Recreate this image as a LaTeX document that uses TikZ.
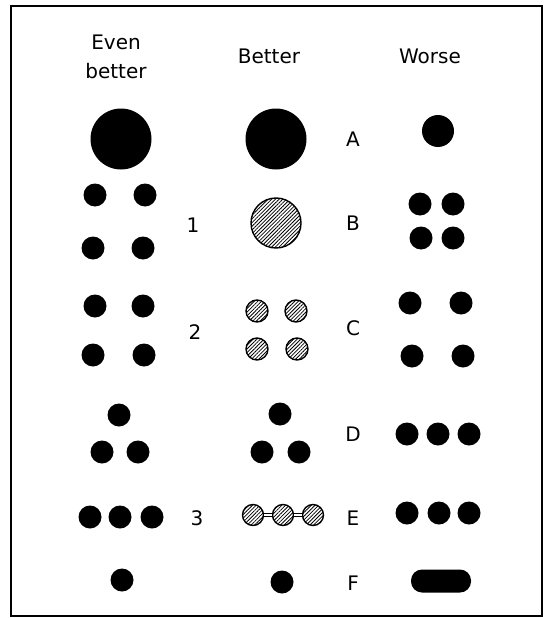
\documentclass[tikz,border=0pt]{standalone}
\usepackage{fontspec}
\setmainfont{DejaVu Sans}
\usetikzlibrary{patterns.meta}
\begin{document}
\begin{tikzpicture}[x=1pt,y=-1pt,
every node/.style={font=\fontsize{20}{29}\selectfont},
dot/.style={circle,fill=black,inner sep=0pt,minimum size=23pt},
bigdot/.style={dot,minimum size=61pt},
hatchdot/.style={circle,draw,line width=1.4pt,pattern={Lines[angle=45,distance=2.6pt,line width=.8pt]},inner sep=0pt,minimum size=22pt},
bar/.style={rectangle,rounded corners=11pt,fill=black,inner sep=0pt,minimum width=60pt,minimum height=23pt},
link/.style={double,double distance=2.6pt,line width=.9pt}]
\useasboundingbox (0,0) rectangle (546,618);
\draw[line width=2.8pt] (11,6) rectangle (542,616);
% headings
\node[align=center] (hEven) at (116,57) {Even\\better};
\node (hBetter) at (269,56) {Better};
\node (hWorse) at (430,56) {Worse};
% row A
\node[bigdot] (eA) at (121,139) {};
\node[bigdot] (bA) at (276,139) {};
\node (lA) at (353,139) {A};
\node[dot,minimum size=32pt] (wA) at (438,131) {};
% row B, case 1
\node[dot] (e1a) at (95,195) {};
\node[dot] (e1b) at (145,195) {};
\node[dot] (e1c) at (93,248) {};
\node[dot] (e1d) at (143,248) {};
\node (n1) at (193,225) {1};
\node[hatchdot,minimum size=50pt] (bB) at (276,223) {};
\node (lB) at (353,223) {B};
\node[dot] (wBa) at (420,204) {};
\node[dot] (wBb) at (453,204) {};
\node[dot] (wBc) at (421,238) {};
\node[dot] (wBd) at (453,238) {};
% row C, case 2
\node[dot] (e2a) at (95,306) {};
\node[dot] (e2b) at (143,306) {};
\node[dot] (e2c) at (93,355) {};
\node[dot] (e2d) at (144,355) {};
\node (n2) at (195,332) {2};
\node[hatchdot] (bCa) at (257,311) {};
\node[hatchdot] (bCb) at (296,311) {};
\node[hatchdot] (bCc) at (257,349) {};
\node[hatchdot] (bCd) at (297,349) {};
\node (lC) at (353,328) {C};
\node[dot] (wCa) at (410,303) {};
\node[dot] (wCb) at (461,303) {};
\node[dot] (wCc) at (412,356) {};
\node[dot] (wCd) at (463,356) {};
% row D
\node[dot] (eDa) at (119,415) {};
\node[dot] (eDb) at (102,452) {};
\node[dot] (eDc) at (138,452) {};
\node[dot] (bDa) at (280,414) {};
\node[dot] (bDb) at (262,452) {};
\node[dot] (bDc) at (299,452) {};
\node (lD) at (353,434) {D};
\node[dot] (wDa) at (407,434) {};
\node[dot] (wDb) at (438,434) {};
\node[dot] (wDc) at (469,434) {};
% row E, case 3
\node[dot] (eEa) at (90,517) {};
\node[dot] (eEb) at (120,517) {};
\node[dot] (eEc) at (152,517) {};
\node (n3) at (197,518) {3};
\node[hatchdot,minimum size=21pt] (bEa) at (253,515) {};
\node[hatchdot,minimum size=21pt] (bEb) at (283,515) {};
\node[hatchdot,minimum size=21pt] (bEc) at (313,515) {};
\draw[link] (bEa)--(bEb);
\draw[link] (bEb)--(bEc);
\node (lE) at (353,518) {E};
\node[dot] (wEa) at (407,513) {};
\node[dot] (wEb) at (439,513) {};
\node[dot] (wEc) at (469,513) {};
% row F
\node[dot] (eF) at (122,580) {};
\node[dot] (bF) at (282,582) {};
\node (lF) at (353,583) {F};
\node[bar] (wF) at (441,581) {};
\end{tikzpicture}
\end{document}
